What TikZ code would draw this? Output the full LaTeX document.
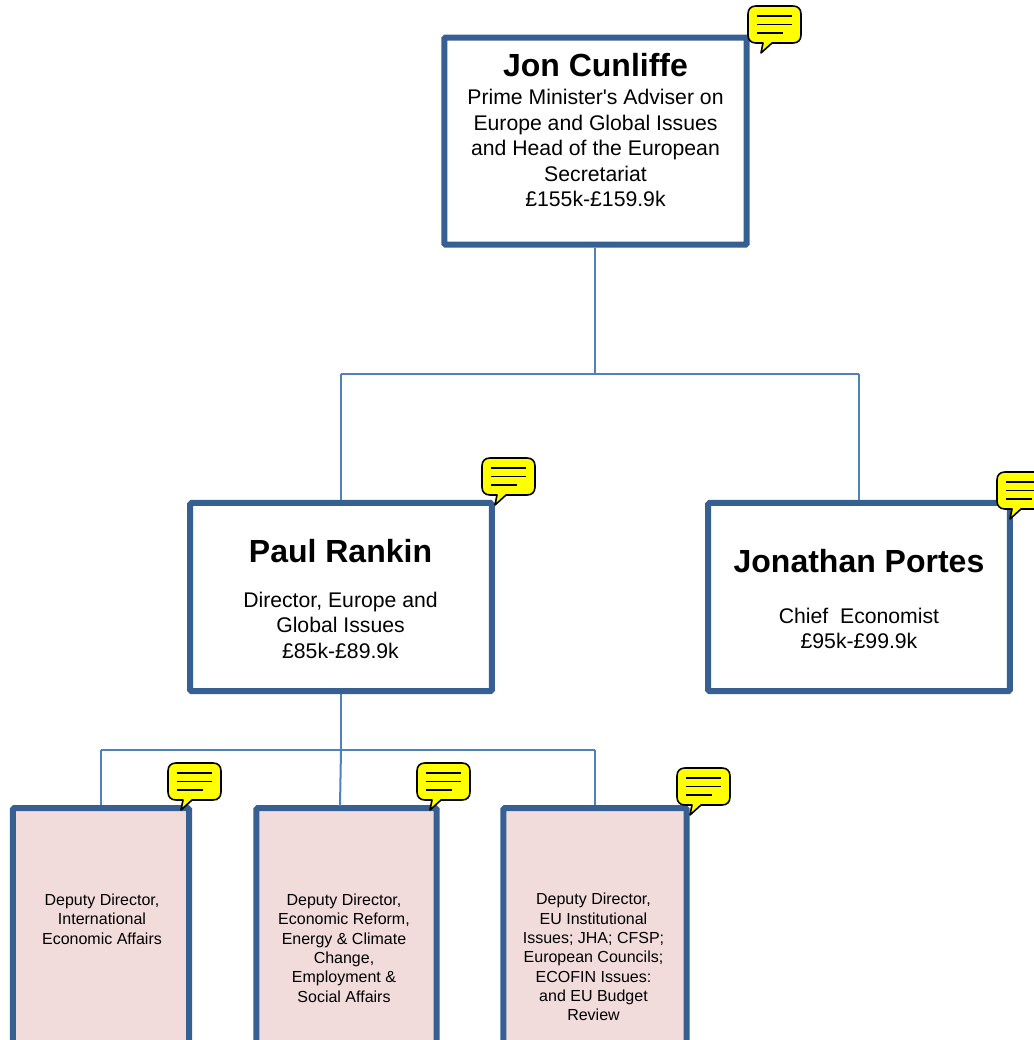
\documentclass[tikz,border=0pt]{standalone}
\usepackage{fontspec}
\setmainfont{Liberation Sans}
\definecolor{boxblue}{HTML}{366092}
\definecolor{linkblue}{HTML}{4F81BD}
\definecolor{pinkfill}{HTML}{F2DCDB}
\definecolor{notefill}{HTML}{FFFF00}
\tikzset{
  x=0.75pt,y=-0.75pt,
  chart/.style={draw=boxblue,line width=4.5pt,rounded corners=1pt,fill=white,inner sep=0pt},
  pinkbox/.style={chart,fill=pinkfill},
  link/.style={draw=linkblue,line width=1.5pt},
  bignote/.style={align=center,font=\fontsize{15.9}{19.15}\selectfont,inner sep=0pt},
  smallnote/.style={align=center,font=\fontsize{12}{14.5}\selectfont,inner sep=0pt},
  bigname/.style={font=\fontsize{24}{28}\selectfont\bfseries,inner sep=0pt},
  bubble/.style={draw=black,line width=1.2pt,fill=notefill,line join=round},
  bubbleline/.style={draw=black,line width=1.05pt}
}
\newcommand{\speech}[2]{%
  \begin{scope}[shift={(#1,#2)}]
    \path[bubble] (8,0) -- (45,0) .. controls (50,0) and (53,3) .. (53,8) -- (53,29)
      .. controls (53,34) and (50,37) .. (45,37) -- (24,37) -- (13,47) -- (15,37) -- (8,37)
      .. controls (3,37) and (0,34) .. (0,29) -- (0,8) .. controls (0,3) and (3,0) .. (8,0) -- cycle;
    \path[bubbleline] (9,10) -- (44,10) (9,18.5) -- (44,18.5) (9,27) -- (35,27);
  \end{scope}}
\begin{document}
\begin{tikzpicture}
\useasboundingbox (0,0) rectangle (1034,1040);
\clip (0,0) rectangle (1034,1040);
% connectors
\coordinate (bus1) at (595.3,373.5);
\coordinate (bus1l) at (340.5,373.5);
\coordinate (bus1r) at (859,373.5);
\coordinate (bus2) at (341,750);
\coordinate (bus2l) at (100.5,750);
\coordinate (bus2r) at (595,750);
% boxes
\node[chart,minimum width=226.8pt,minimum height=155.4pt] (jon) at (595.5,141.1) {};
\node[chart,minimum width=226.2pt,minimum height=141.2pt] (paul) at (341,597.1) {};
\node[chart,minimum width=226.2pt,minimum height=141.2pt] (portes) at (859,597.1) {};
\node[pinkbox,minimum width=132.2pt,minimum height=187.5pt] (d1) at (100.9,933.2) {};
\node[pinkbox,minimum width=135.2pt,minimum height=187.5pt] (d2) at (346.5,933.2) {};
\node[pinkbox,minimum width=137.4pt,minimum height=187.5pt] (d3) at (595,933.2) {};
\draw[link] (bus1 |- jon.south) -- (bus1);
\draw[link] (bus1l) -- (bus1r);
\draw[link] (bus1l) -- (bus1l |- paul.north);
\draw[link] (bus1r) -- (bus1r |- portes.north);
\draw[link] (paul.south) -- (bus2);
\draw[link] (bus2l) -- (bus2r);
\draw[link] (bus2l) -- (bus2l |- d1.north);
\draw[link] (bus2) -- (340,806);
\draw[link] (bus2r) -- (bus2r |- d3.north);
% texts
\node[bigname] (jonname) at (595.5,65) {Jon Cunliffe};
\node[bignote] (jontext) at (595.5,148) {Prime Minister\textquotesingle s Adviser on\\Europe and Global Issues\\and Head of the European\\Secretariat\\£155k-£159.9k};
\node[bigname] (paulname) at (340.5,551) {Paul Rankin};
\node[bignote] (paultext) at (340.5,625) {Director, Europe and\\Global Issues\\£85k-£89.9k};
\node[bigname] (portesname) at (859,561) {Jonathan Portes};
\node[bignote] (portestext) at (859,628.5) {Chief\ \ Economist\\£95k-£99.9k};
\node[smallnote] (d1text) at (102,919) {Deputy Director,\\International\\Economic Affairs};
\node[smallnote] (d2text) at (344,948) {Deputy Director,\\Economic Reform,\\Energy \& Climate\\Change,\\Employment \&\\Social Affairs};
\node[smallnote] (d3text) at (593.5,957) {Deputy Director,\\EU Institutional\\Issues; JHA; CFSP;\\European Councils;\\ECOFIN Issues:\\and EU Budget\\Review};
% callouts
\speech{748}{6}
\speech{482}{458}
\speech{997}{472}
\speech{168}{763}
\speech{417}{763}
\speech{677}{768}
\end{tikzpicture}
\end{document}
